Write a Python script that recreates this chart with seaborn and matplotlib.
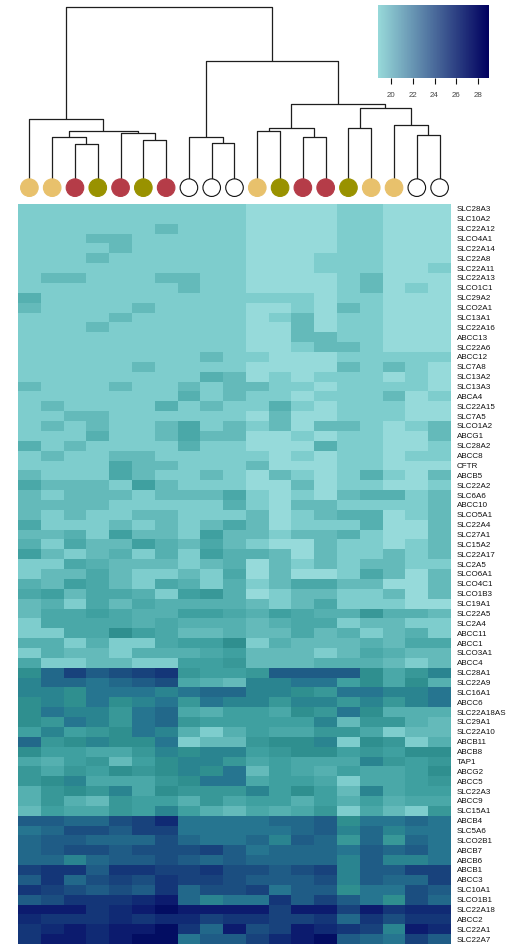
import pandas as pd
import seaborn as sns
import matplotlib
matplotlib.use("Agg")
import matplotlib.pyplot as plt
from matplotlib.colors import LinearSegmentedColormap, Normalize
from matplotlib.cm import ScalarMappable

# row labels (top -> bottom)
genes = ["SLC28A3", "SLC10A2", "SLC22A12", "SLCO4A1", "SLC22A14", "SLC22A8", "SLC22A11",
         "SLC22A13", "SLCO1C1", "SLC29A2", "SLCO2A1", "SLC13A1", "SLC22A16", "ABCC13",
         "SLC22A6", "ABCC12", "SLC7A8", "SLC13A2", "SLC13A3", "ABCA4", "SLC22A15", "SLC7A5",
         "SLCO1A2", "ABCG1", "SLC28A2", "ABCC8", "CFTR", "ABCB5", "SLC22A2", "SLC6A6",
         "ABCC10", "SLCO5A1", "SLC22A4", "SLC27A1", "SLC15A2", "SLC22A17", "SLC2A5",
         "SLCO6A1", "SLCO4C1", "SLCO1B3", "SLC19A1", "SLC22A5", "SLC2A4", "ABCC11", "ABCC1",
         "SLCO3A1", "ABCC4", "SLC28A1", "SLC22A9", "SLC16A1", "ABCC6", "SLC22A18AS",
         "SLC29A1", "SLC22A10", "ABCB11", "ABCB8", "TAP1", "ABCG2", "ABCC5", "SLC22A3",
         "ABCC9", "SLC15A1", "ABCB4", "SLC5A6", "SLCO2B1", "ABCB7", "ABCB6", "ABCB1", "ABCC3",
         "SLC10A1", "SLCO1B1", "SLC22A18", "ABCC2", "SLC22A1", "SLC22A7"]

# sample groups (left -> right, dendrogram order)
groups = ["gold", "gold", "red", "olive", "red", "olive", "red", "white", "white", "white",
          "gold", "olive", "red", "red", "olive", "gold", "gold", "white", "white"]

# expression values, one row per gene, 19 samples
expr = [
    [19.6,19.6,19.6,19.6,19.6,19.6,19.6,19.6,19.6,19.6,19.0,19.0,19.0,19.0,19.6,19.6,19.0,19.0,19.0],
    [19.6,19.6,19.6,19.6,19.6,19.6,19.6,19.6,19.6,19.6,19.0,19.0,19.0,19.0,19.6,19.6,19.0,19.0,19.0],
    [19.6,19.6,19.6,19.6,19.6,19.6,20.2,19.6,19.6,19.6,19.0,19.0,19.0,19.0,19.6,19.6,19.0,19.0,19.0],
    [19.6,19.6,19.6,20.2,20.2,19.6,19.6,19.6,19.6,19.6,19.0,19.0,19.0,19.0,19.6,19.6,19.0,19.0,19.0],
    [19.6,19.6,19.6,19.6,20.2,19.6,19.6,19.6,19.6,19.6,19.0,19.0,19.0,19.0,19.6,19.6,19.0,19.0,19.0],
    [19.6,19.6,19.6,20.2,19.6,19.6,19.6,19.6,19.6,19.6,19.0,19.0,19.0,19.6,19.6,19.6,19.0,19.0,19.0],
    [19.6,19.6,19.6,19.6,19.6,19.6,19.6,19.6,19.6,19.6,19.0,19.0,19.0,19.6,19.6,19.6,19.0,19.0,19.6],
    [19.6,20.2,20.2,19.6,19.6,19.6,20.2,20.2,19.6,19.6,19.0,19.0,19.0,19.0,19.6,20.2,19.0,19.0,19.0],
    [19.6,19.6,19.6,19.6,19.6,19.6,19.6,20.2,19.6,19.6,19.0,19.0,19.0,19.0,19.6,20.2,19.0,19.6,19.0],
    [20.8,19.6,19.6,19.6,19.6,19.6,19.6,19.6,19.6,19.6,19.6,19.6,19.6,19.0,19.6,19.6,19.0,19.0,19.0],
    [20.2,19.6,19.6,19.6,19.6,20.2,19.6,19.6,19.6,19.6,19.0,19.0,19.6,19.0,20.2,19.6,19.0,19.0,19.0],
    [19.6,19.6,19.6,19.6,20.2,19.6,19.6,19.6,19.6,19.6,19.0,19.6,20.2,19.0,19.6,19.6,19.0,19.0,19.0],
    [19.6,19.6,19.6,20.2,19.6,19.6,19.6,19.6,19.6,19.6,19.0,19.0,20.2,19.0,19.6,19.6,19.0,19.0,19.0],
    [19.6,19.6,19.6,19.6,19.6,19.6,19.6,19.6,19.6,19.6,19.0,19.0,20.2,20.2,19.6,19.6,19.0,19.0,19.0],
    [19.6,19.6,19.6,19.6,19.6,19.6,19.6,19.6,19.6,19.6,19.0,19.0,19.6,20.2,20.2,19.6,19.0,19.0,19.0],
    [19.6,19.6,19.6,19.6,19.6,19.6,19.6,19.6,20.2,19.6,19.6,19.0,19.0,19.0,19.6,19.6,19.6,19.6,19.6],
    [19.6,19.6,19.6,19.6,19.6,20.2,19.6,19.6,19.6,19.6,19.0,19.0,19.0,19.0,20.2,19.6,20.2,19.6,19.0],
    [19.6,19.6,19.6,19.6,19.6,19.6,19.6,19.6,20.8,20.2,19.0,19.6,19.0,19.6,19.6,19.6,19.0,19.6,19.0],
    [20.2,19.6,19.6,19.6,20.2,19.6,19.6,20.2,19.6,20.2,20.2,19.6,19.6,19.0,19.6,19.6,19.6,19.6,19.0],
    [19.6,19.6,19.6,19.6,19.6,19.6,19.6,20.8,19.6,20.2,19.6,19.6,19.0,19.6,19.6,19.6,20.2,19.0,19.6],
    [19.6,20.2,19.6,19.6,19.6,19.6,20.8,19.6,20.2,19.6,19.6,20.8,19.6,19.0,19.6,19.6,19.6,19.0,19.0],
    [19.6,19.6,20.2,20.2,19.6,19.6,19.6,19.6,19.6,19.6,19.0,20.2,19.0,19.0,19.6,19.6,19.6,19.0,19.0],
    [19.6,20.2,19.6,20.2,19.6,19.6,20.2,21.4,19.6,20.2,19.6,20.2,19.0,20.2,20.2,19.6,19.0,19.6,20.2],
    [19.6,19.6,19.6,20.8,19.6,19.6,20.2,21.4,20.2,20.2,19.0,19.0,19.6,19.0,19.6,19.6,19.0,19.0,20.2],
    [20.8,19.6,20.2,19.6,19.6,19.6,19.6,20.8,19.6,19.6,19.0,19.0,19.0,20.8,19.6,19.6,19.0,19.0,19.6],
    [19.6,20.2,19.6,19.6,20.2,20.2,19.6,19.6,19.6,19.6,19.6,19.0,19.6,19.0,19.6,19.6,19.0,19.6,19.6],
    [19.6,19.6,19.6,19.6,21.4,20.2,20.2,19.6,19.6,19.6,20.2,19.0,19.0,19.0,19.6,19.6,19.0,19.0,19.0],
    [20.2,19.6,19.6,19.6,21.4,20.2,19.6,19.6,20.2,19.6,19.0,20.2,19.6,19.0,19.6,20.8,19.6,19.0,20.2],
    [21.4,20.2,20.2,20.2,19.6,22.0,20.2,19.6,19.6,19.6,19.0,19.0,20.2,19.0,19.6,19.6,19.0,19.0,19.6],
    [20.2,19.6,20.2,20.2,20.2,19.6,20.2,20.2,20.2,21.4,19.6,19.0,19.6,19.0,20.2,20.8,20.8,19.6,20.2],
    [20.2,20.2,20.2,20.2,19.6,19.6,19.6,19.6,19.6,20.8,19.6,19.0,20.2,20.2,19.6,19.6,19.6,19.6,20.2],
    [20.2,19.6,20.2,19.6,19.6,20.2,20.2,19.6,19.6,19.6,20.2,19.0,19.6,20.2,20.8,20.8,19.0,19.6,20.2],
    [21.4,19.6,19.6,19.6,20.2,19.6,20.2,19.6,20.2,21.4,20.2,19.0,19.6,19.6,19.6,20.8,19.0,19.0,20.2],
    [20.2,20.2,20.8,19.6,22.0,20.2,20.2,19.6,22.0,20.2,20.2,19.6,20.2,20.2,20.8,19.6,19.0,19.0,20.2],
    [20.8,19.6,21.4,20.2,20.2,22.0,20.8,20.2,21.4,20.2,19.6,19.0,19.0,20.2,19.6,19.6,19.0,19.6,20.2],
    [22.0,20.2,19.6,20.2,20.8,19.6,20.8,19.6,22.0,20.8,20.8,20.2,19.0,20.2,19.6,19.6,20.2,19.6,20.2],
    [19.6,19.6,21.4,20.8,20.2,20.2,20.2,19.6,20.2,20.8,19.0,20.2,19.6,20.2,19.6,20.2,20.2,19.6,19.6],
    [19.6,20.2,20.2,21.4,20.2,19.6,19.6,20.2,19.6,21.4,19.0,20.2,19.0,19.0,19.6,21.4,20.2,19.0,20.2],
    [20.8,20.2,22.0,21.4,20.2,19.6,21.4,20.8,19.6,20.8,19.6,20.2,21.4,21.4,20.2,20.2,19.0,19.0,20.2],
    [21.4,22.0,20.2,21.4,21.4,20.8,19.6,22.0,22.6,20.8,19.0,19.6,20.2,20.2,19.6,19.6,20.2,19.0,20.2],
    [20.2,20.8,19.6,21.4,20.2,21.4,20.8,20.8,20.8,20.8,20.2,19.6,20.2,21.4,19.6,19.6,19.6,19.0,19.0],
    [20.2,21.4,21.4,22.0,21.4,20.8,20.8,22.0,22.0,21.4,20.8,22.0,21.4,20.8,20.8,22.6,20.8,20.8,20.2],
    [19.6,21.4,21.4,21.4,21.4,20.8,21.4,20.8,20.8,20.8,20.2,20.8,21.4,21.4,19.6,20.2,20.2,19.6,19.6],
    [19.6,19.6,21.4,21.4,23.2,22.0,21.4,20.2,20.2,20.8,20.2,20.2,21.4,20.2,20.8,19.6,20.2,20.8,19.6],
    [20.8,20.8,19.6,20.8,19.6,19.6,21.4,22.0,22.0,23.2,19.6,20.8,20.2,20.2,20.2,20.8,20.2,21.4,21.4],
    [19.6,20.8,20.2,20.2,19.6,20.8,20.8,20.8,21.4,22.0,20.2,20.2,20.2,19.6,20.2,21.4,20.8,20.2,20.2],
    [21.4,19.6,19.6,20.2,20.2,19.6,19.6,22.0,22.0,22.6,20.2,20.2,20.2,20.8,20.8,20.8,20.2,19.6,20.2],
    [23.2,25.0,26.8,25.6,26.2,26.8,27.4,22.6,22.0,22.0,22.6,25.6,25.6,25.6,25.6,23.2,21.4,22.6,23.8],
    [23.8,25.0,25.0,24.4,25.0,25.6,26.2,21.4,20.8,20.2,23.8,23.8,24.4,24.4,22.0,23.2,21.4,23.2,20.8],
    [23.8,23.8,23.2,24.4,24.4,24.4,23.8,24.4,25.0,25.0,23.8,23.8,23.2,22.6,24.4,24.4,23.8,23.8,24.4],
    [23.2,23.8,23.2,24.4,23.2,23.8,24.4,22.6,24.4,23.8,23.8,22.6,23.8,23.8,22.6,23.8,22.6,23.8,24.4],
    [23.2,24.4,23.8,23.8,22.6,24.4,25.0,21.4,20.8,22.0,22.0,21.4,23.2,22.6,24.4,23.2,20.8,20.8,20.8],
    [23.2,22.6,24.4,23.8,22.6,24.4,25.0,22.6,22.0,22.0,22.0,22.0,22.0,23.8,20.2,22.6,22.6,20.8,20.2],
    [22.0,23.8,22.0,22.6,23.2,24.4,23.8,20.8,19.6,20.8,22.0,21.4,21.4,22.6,22.6,21.4,19.6,20.2,20.2],
    [25.0,22.6,23.2,23.8,23.2,23.2,24.4,19.6,20.2,20.2,22.6,23.2,23.2,23.8,19.6,23.2,22.6,19.6,20.8],
    [23.2,22.0,22.0,21.4,21.4,22.6,23.8,23.2,23.8,23.8,22.0,22.6,23.2,23.2,22.0,22.6,22.0,23.2,23.2],
    [21.4,20.8,22.0,22.6,20.2,22.0,23.2,23.8,23.8,22.6,21.4,22.0,21.4,21.4,21.4,23.8,22.6,22.0,22.6],
    [22.6,21.4,22.6,22.0,23.2,22.6,23.2,23.8,23.2,24.4,20.2,22.0,21.4,20.8,22.0,21.4,21.4,22.0,23.2],
    [22.6,23.2,23.8,21.4,21.4,21.4,22.6,23.2,24.4,24.4,21.4,22.0,22.0,21.4,19.6,21.4,21.4,22.0,22.6],
    [20.8,22.6,23.2,22.6,23.8,21.4,23.2,22.6,22.6,22.6,23.8,22.0,23.2,22.0,20.2,23.8,21.4,22.0,22.0],
    [20.8,22.6,20.8,20.2,22.6,22.0,22.0,20.8,22.6,21.4,22.0,22.0,20.8,22.0,20.8,22.0,20.8,21.4,21.4],
    [20.2,22.0,21.4,21.4,22.6,22.0,23.8,22.0,20.8,20.2,21.4,20.8,21.4,22.6,19.6,21.4,20.2,19.6,22.6],
    [25.6,25.6,25.0,25.0,26.2,26.8,28.0,24.4,24.4,24.4,24.4,25.0,25.0,25.6,23.2,24.4,24.4,25.0,24.4],
    [24.4,25.0,26.2,26.2,25.6,26.8,26.8,24.4,24.4,24.4,24.4,24.4,25.0,25.6,23.8,25.0,23.8,24.4,24.4],
    [25.0,25.6,25.6,25.0,25.0,25.0,26.2,25.0,24.4,24.4,25.0,23.8,25.6,25.0,22.6,25.0,22.6,25.0,24.4],
    [25.0,25.6,26.2,26.2,25.6,26.2,26.2,26.2,26.8,25.6,24.4,25.0,25.0,25.0,24.4,25.6,25.0,25.6,24.4],
    [25.0,25.0,23.8,25.0,25.6,25.6,26.2,25.6,25.0,25.6,25.0,25.0,25.0,25.0,23.8,25.6,23.8,23.8,24.4],
    [26.8,27.4,27.4,25.6,27.4,27.4,26.8,26.8,27.4,26.2,26.2,25.6,26.2,26.8,23.8,25.6,25.6,26.8,26.8],
    [25.6,27.4,25.0,26.2,26.8,26.2,27.4,26.8,26.8,26.2,25.6,25.6,25.6,26.2,23.8,25.6,25.0,25.0,26.8],
    [27.4,26.8,26.2,25.6,26.2,25.6,27.4,25.0,26.2,26.2,26.8,24.4,25.6,25.6,23.2,24.4,24.4,26.2,25.6],
    [25.6,26.2,27.4,27.4,27.4,28.0,28.5,25.0,23.8,24.4,24.4,27.4,25.6,26.8,25.6,24.4,23.2,26.2,25.0],
    [28.5,28.5,28.5,27.4,28.0,28.5,29.0,28.5,28.5,28.5,28.5,26.8,28.5,28.5,26.8,28.5,27.4,28.0,28.0],
    [28.0,27.4,27.4,27.4,28.0,27.4,28.0,28.0,26.8,27.4,27.4,26.8,26.8,27.4,25.0,27.4,26.2,27.4,27.4],
    [27.4,28.0,28.5,28.0,28.5,28.5,29.0,27.4,25.0,28.5,26.2,26.8,28.5,28.0,27.4,26.8,23.8,28.5,28.0],
    [27.4,28.5,28.5,28.0,28.5,29.0,29.0,24.4,25.6,25.6,26.8,28.0,28.5,29.0,25.6,25.0,24.4,26.8,25.6],
]

# column clustering: (left, right, height); leaves 0..18, new clusters numbered from 19
merges = [(2, 3, 11.3), (1, 19, 13.3), (5, 6, 12.6), (4, 21, 14.7), (20, 22, 15.1),
          (0, 23, 18.9), (8, 9, 11.7), (7, 25, 13.3), (10, 11, 15.1), (12, 13, 13.4),
          (27, 28, 16.2), (14, 15, 16.2), (17, 18, 14.1), (16, 31, 17.0), (30, 32, 22.0),
          (29, 33, 23.4), (26, 34, 36.3), (24, 35, 52.3)]

group_colors = {"gold": "#e8c16c", "red": "#b53c48", "olive": "#999200", "white": "#ffffff"}

# heatmap palette stops
pal_values = [19.0, 19.6, 20.2, 20.8, 21.4, 22.0, 22.6, 23.2, 23.8, 24.4, 25.0, 25.6,
              26.2, 26.8, 27.4, 28.0, 28.5, 29.0]
pal_colors = ["#96dada", "#7ecdcd", "#64baba", "#55b0b0", "#4aa8a8", "#3fa0a0", "#389898",
              "#2f8f8f", "#2a8490", "#267590", "#22688a", "#1f5c86", "#1b4e80", "#18427c",
              "#143678", "#102a74", "#0c1c6e", "#030d62"]
vmin, vmax = 18.8, 29.0

sns.set_style("white")
plt.rcParams["font.family"] = ["Liberation Sans", "DejaVu Sans"]

W, H = 510, 944
fig = plt.figure(figsize=(W / 100, H / 100), dpi=100)


def px_axes(x0, y0, x1, y1):
    return fig.add_axes([x0 / W, 1 - y1 / H, (x1 - x0) / W, (y1 - y0) / H])


# heatmap
ax_heat = px_axes(18, 204, 451, 944)
df = pd.DataFrame(expr, index=genes)
stops = [(0.0, pal_colors[0])] + [((v - vmin) / (vmax - vmin), c) for v, c in zip(pal_values, pal_colors)]
heat_cmap = LinearSegmentedColormap.from_list("heat", stops)
sns.heatmap(df, ax=ax_heat, cmap=heat_cmap, vmin=vmin, vmax=vmax, cbar=False,
            xticklabels=False, yticklabels=True)
ax_heat.yaxis.tick_right()
ax_heat.tick_params(axis="y", length=0, pad=4, labelsize=5.8, labelrotation=0, colors="#111111")
ax_heat.set_ylabel("")
ax_heat.set_xlabel("")

# dendrogram + group dots
ax_d = px_axes(18, 5, 451, 200)
xpos = {i: i + 0.5 for i in range(len(groups))}
hpos = {i: 0.0 for i in range(len(groups))}
for k, (a, b, h) in enumerate(merges):
    ax_d.plot([xpos[a], xpos[a], xpos[b], xpos[b]], [hpos[a], h, h, hpos[b]],
              color="#1e1e1e", lw=0.9, solid_capstyle="butt")
    cid = len(groups) + k
    xpos[cid] = (xpos[a] + xpos[b]) / 2
    hpos[cid] = h
face = [group_colors[g] for g in groups]
edge = ["#111111" if g == "white" else group_colors[g] for g in groups]
ax_d.scatter([i + 0.5 for i in range(len(groups))], [-1.8] * len(groups), s=160,
             c=face, edgecolors=edge, linewidths=0.8, zorder=3, clip_on=False)
ax_d.set_xlim(0, len(groups))
ax_d.set_ylim(-5.5, 53.0)
ax_d.axis("off")

# colour key
ax_cb = px_axes(378, 5, 489, 78)
key_cmap = LinearSegmentedColormap.from_list("key", ["#97d9d9", "#00005f"])
cb = fig.colorbar(ScalarMappable(norm=Normalize(vmin, vmax), cmap=key_cmap), cax=ax_cb,
                  orientation="horizontal", ticks=[20, 22, 24, 26, 28])
cb.outline.set_visible(False)
ax_cb.tick_params(length=4, width=0.8, labelsize=5.7, pad=6, color="#111111", labelcolor="#444444")

fig.savefig("out.png", dpi=100)
